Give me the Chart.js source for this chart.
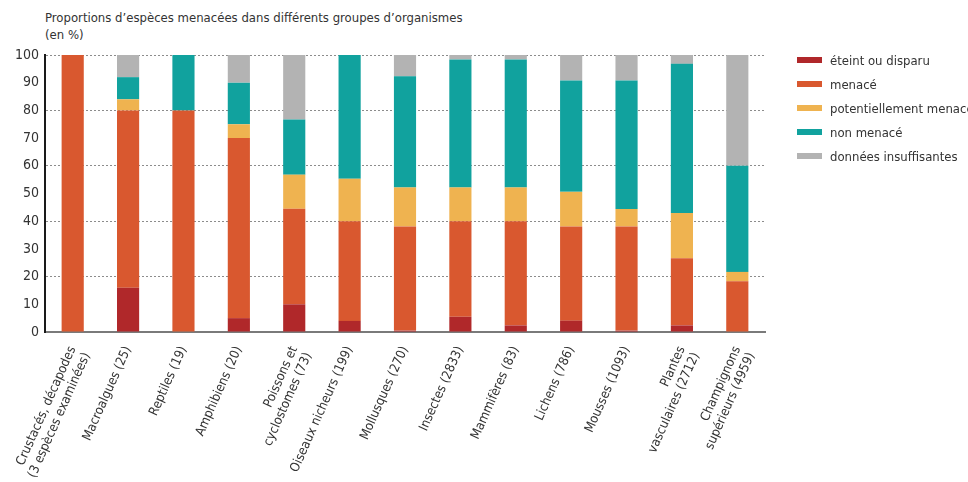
<!DOCTYPE html>
<html lang="fr">
<head>
<meta charset="utf-8">
<script src="https://cdn.jsdelivr.net/npm/chart.js@4.4.1/dist/chart.umd.min.js"></script>
<style>
    html, body { margin: 0; padding: 0; background: #fff; overflow: hidden; }
    body { width: 968px; height: 482px; position: relative; font-family: "Liberation Sans Narrow", "DejaVu Sans Condensed", "Roboto", sans-serif; color: #333; }
    #wrap { position: absolute; left: 0; top: 0; width: 968px; height: 482px; }
    #title { position: absolute; left: 45px; top: 9px; font-size: 13px; line-height: 17px; color: #333; }
    #legend { position: absolute; left: 797px; top: 48px; font-size: 13px; white-space: nowrap; }
    #legend .item { height: 24px; display: flex; align-items: center; }
    #legend .box { width: 25px; height: 6px; margin-right: 8px; flex: none; }
</style>
</head>
<body>
<div id="title">Proportions d’espèces menacées dans différents groupes d’organismes<br>(en %)</div>
<div id="wrap"><canvas id="myChart"></canvas></div>
<div id="legend"></div>
<script>
/* données */

const categories = [
    ["Crustacés, décapodes", "(3 espèces examinées)"],
    "Macroalgues (25)",
    "Reptiles (19)",
    "Amphibiens (20)",
    ["Poissons et", "cyclostomes (73)"],
    "Oiseaux nicheurs (199)",
    "Mollusques (270)",
    "Insectes (2833)",
    "Mammifères (83)",
    "Lichens (786)",
    "Mousses (1093)",
    ["Plantes", "vasculaires (2712)"],
    ["Champignons", "supérieurs (4959)"],
];

const eteint      = [0, 16, 0, 5, 10, 4, 0.5, 5.5, 2.4, 4.1, 0.5, 2.4, 0];
const menace      = [100, 64, 80, 65, 34.5, 36, 37.6, 34.5, 37.6, 34, 37.6, 24.2, 18.3];
const potentiel   = [0, 4, 0, 5, 12.3, 15.3, 14.1, 12.2, 12.2, 12.5, 6.3, 16.4, 3.4];
const nonMenace   = [0, 8, 20, 15, 19.9, 44.7, 40.1, 46.2, 46.2, 40.2, 46.4, 53.8, 38.3];
const insuffisant = [0, 8, 0, 10, 23.3, 0, 7.7, 1.6, 1.6, 9.2, 9.2, 3.2, 40];

const seriesNames = ["éteint ou disparu", "menacé", "potentiellement menacé", "non menacé", "données insuffisantes"];
const seriesColors = ["#b0282a", "#d9582f", "#efb350", "#11a29e", "#b3b3b3"];

const yTicks = [0, 10, 20, 30, 40, 50, 60, 70, 80, 90, 100];

const FONT = '"Liberation Sans Narrow", "DejaVu Sans Condensed", "Roboto", sans-serif';

/* chart */

const values = [eteint, menace, potentiel, nonMenace, insuffisant];
let datasets = [];
values.map((serie, i) => {
    datasets.push({
        label: seriesNames[i],
        data: serie,
        backgroundColor: seriesColors[i],
        borderWidth: 0,
        categoryPercentage: 1,
        barPercentage: 0.4,
    });
});

const ctx = document.getElementById("myChart").getContext("2d");

const config = {
    type: "bar",
    data: {
        labels: categories,
        datasets: datasets,
    },
    options: {
        responsive: true,
        maintainAspectRatio: false,
        animation: false,
        layout: {
            padding: { top: 55, right: 203, left: 0, bottom: 0 },
        },
        plugins: {
            legend: { display: false },
            title: { display: false },
            tooltip: { enabled: false },
        },
        scales: {
            x: {
                stacked: true,
                grid: { display: false },
                border: { display: true, color: "#7a7a7a", width: 2 },
                ticks: {
                    autoSkip: false,
                    minRotation: 66,
                    maxRotation: 66,
                    padding: 4,
                    color: "#333",
                    font: { family: FONT, size: 13 },
                },
                afterFit: (scale) => { scale.height = 150; },
            },
            y: {
                stacked: true,
                min: 0,
                max: 100,
                afterBuildTicks: (scale) => { scale.ticks = yTicks.map((v) => ({ value: v })); },
                grid: {
                    drawTicks: false,
                    lineWidth: 1,
                    color: (c) => (c.tick && c.tick.value > 0 && c.tick.value % 20 === 0 ? "#8c8c8c" : "rgba(0,0,0,0)"),
                },
                border: { display: true, color: "#1a1a1a", width: 2, dash: [2, 2] },
                ticks: {
                    padding: 6,
                    color: "#333",
                    font: { family: FONT, size: 14 },
                },
                afterFit: (scale) => { scale.width = 45; },
            },
        },
    },
};

const myChart = new Chart(ctx, config);

/* légende */

const legend = document.getElementById("legend");
seriesNames.map((name, i) => {
    const item = document.createElement("div");
    item.className = "item";
    item.innerHTML = '<span class="box" style="background:' + seriesColors[i] + '"></span><span>' + name + "</span>";
    legend.appendChild(item);
});
</script>
</body>
</html>
